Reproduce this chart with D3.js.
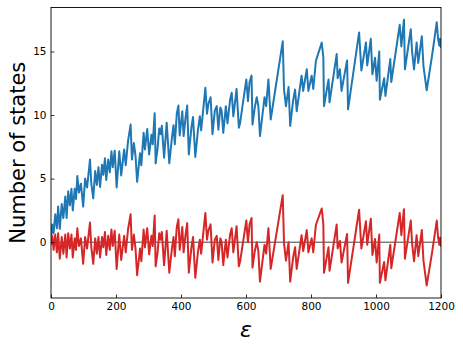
<!DOCTYPE html>
<html>
<head>
<meta charset="utf-8">
<script src="https://cdn.jsdelivr.net/npm/d3@7"></script>
<style>
  body { margin: 0; background: #fff; }
  svg { display: block; font-family: "DejaVu Sans", sans-serif; }
</style>
</head>
<body>
<svg id="chart" width="463" height="350"></svg>
<script>
"use strict";

// energies at which the curves change slope
const eps = [0, 4, 8, 13, 18, 22, 27, 33, 38, 44, 48, 53, 58, 63, 67, 73, 77, 81, 86, 92,
  99, 105, 111, 120, 124, 130, 136, 141, 146, 151, 157, 161, 166, 170, 176, 181, 186, 190, 196, 202,
  210, 216, 225, 230, 237, 245, 249, 255, 260, 265, 274, 278, 285, 289, 296, 302, 309, 313, 319, 322,
  328, 333, 337, 341, 348, 356, 364, 372, 377, 381, 387, 392, 396, 404, 408, 414, 419, 424, 432, 437,
  444, 452, 458, 462, 475, 480, 484, 491, 497, 504, 510, 515, 521, 525, 530, 538, 543, 551, 556, 561,
  571, 578, 582, 601, 606, 611, 617, 620, 627, 633, 638, 643, 657, 662, 669, 676, 713, 717, 723, 731,
  736, 745, 751, 756, 771, 776, 787, 792, 802, 807, 815, 833, 838, 840, 854, 857, 879, 882, 889, 894,
  911, 914, 948, 955, 969, 973, 984, 989, 997, 1002, 1010, 1012, 1025, 1029, 1044, 1047, 1073, 1078, 1086, 1089,
  1107, 1111, 1117, 1125, 1130, 1141, 1146, 1156, 1172, 1187, 1191, 1195, 1197, 1200];

// number of states
const states = [0.5, 1.4, 0.7, 2.2, 1.1, 2.8, 1.05, 3.0, 1.9, 3.6, 1.9, 4.0, 2.9, 4.2, 2.5, 4.2, 3.4, 5.2, 3.9, 4.6,
  2.8, 5.0, 4.3, 6.5, 4.6, 3.45, 5.6, 4.5, 5.9, 4.35, 6.1, 5.3, 6.6, 4.9, 6.5, 5.5, 7.15, 5.9, 7.2, 4.3,
  7.15, 5.25, 7.3, 6.05, 7.95, 9.25, 6.5, 7.8, 6.8, 4.75, 7.0, 6.05, 8.6, 7.3, 8.9, 6.9, 8.45, 7.7, 10.15, 6.2,
  7.4, 8.95, 8.5, 9.15, 6.65, 9.4, 6.2, 8.2, 9.2, 7.7, 10.1, 10.75, 8.4, 10.3, 8.35, 9.8, 10.75, 6.9, 9.0, 9.85,
  6.7, 8.8, 9.9, 8.8, 12.15, 10.1, 10.85, 11.4, 8.5, 10.35, 10.7, 8.85, 10.6, 10.35, 8.6, 10.7, 9.35, 11.2, 11.75, 9.9,
  12.05, 9.0, 9.4, 12.8, 11.1, 12.6, 13.1, 9.25, 10.6, 11.4, 10.7, 8.35, 11.4, 10.7, 12.8, 9.65, 15.8, 12.0, 10.7, 12.2,
  9.15, 11.15, 12.0, 10.3, 13.1, 11.9, 13.6, 11.9, 13.1, 12.05, 14.25, 15.7, 14.5, 10.7, 12.8, 11.0, 14.8, 12.9, 13.6, 11.9,
  14.3, 10.45, 16.5, 13.5, 15.7, 13.9, 16.0, 13.2, 14.5, 12.7, 15.0, 11.2, 12.9, 11.5, 14.4, 12.6, 17.1, 15.4, 17.5, 13.6,
  16.75, 15.0, 13.6, 15.7, 14.1, 16.2, 13.85, 11.95, 14.6, 17.3, 16.0, 15.45, 16.0, 15.3];

// fluctuating part
const fluct = [-0.2, 0.5, -0.6, 0.6, -0.8, 0.7, -1.3, 0.4, -0.9, 0.6, -1.2, 0.7, -0.5, 0.6, -1.2, 0.3, -0.6, 1.1, -0.3, 0.3,
  -1.7, 0.4, -0.5, 1.55, -0.4, -1.7, 0.3, -0.9, 0.4, -1.2, 0.4, -0.4, 0.8, -1.0, 0.5, -0.6, 1.0, -0.3, 0.9, -2.1,
  0.6, -1.4, 0.5, -0.8, 1.0, 2.2, -0.6, 0.6, -0.5, -2.6, -0.5, -1.5, 1.0, -0.4, 1.1, -0.95, 0.5, -0.3, 2.1, -1.9,
  -0.8, 0.7, 0.2, 0.8, -1.8, 0.9, -2.4, -0.5, 0.4, -1.1, 1.2, 1.8, -0.6, 1.2, -0.8, 0.6, 1.5, -2.4, -0.4, 0.4,
  -2.8, -0.8, 0.2, -0.9, 2.3, 0.2, 0.9, 1.4, -1.6, 0.2, 0.5, -1.4, 0.3, 0.0, -1.8, 0.2, -1.2, 0.6, 1.1, -0.8,
  1.25, -1.9, -1.5, 1.7, 0.0, 1.4, 1.9, -2.0, -0.7, 0.0, -0.7, -3.1, -0.2, -0.9, 1.1, -2.1, 3.7, -0.1, -1.45, 0.0,
  -3.1, -1.2, -0.4, -2.1, 0.55, -0.7, 0.95, -0.8, 0.3, -0.8, 1.35, 2.65, 1.4, -2.4, -0.4, -2.25, 1.4, -0.5, 0.1, -1.6,
  0.65, -3.2, 2.55, -0.5, 1.65, -0.2, 1.85, -1.0, 0.25, -1.6, 0.6, -3.2, -1.55, -3.0, -0.2, -2.05, 2.3, 0.55, 2.6, -1.3,
  1.7, -0.1, -1.5, 0.55, -1.1, 0.95, -1.45, -3.4, -0.9, 1.7, 0.4, -0.2, 0.35, -0.35];

const xTicks = [0, 200, 400, 600, 800, 1000, 1200];
const yTicks = [0, 5, 10, 15];

const W = 463, H = 350;
const m = { left: 51, right: 22, top: 7.5, bottom: 52 };

const svg = d3.select("#chart");

const x = d3.scaleLinear().domain([0, 1200]).range([m.left, W - m.right]);
const y = d3.scaleLinear().domain([-4.39, 18.46]).range([H - m.bottom, m.top]);

svg.append("clipPath").attr("id", "plotclip")
  .append("rect")
  .attr("x", m.left).attr("y", m.top)
  .attr("width", W - m.left - m.right).attr("height", H - m.top - m.bottom);

const plot = svg.append("g").attr("clip-path", "url(#plotclip)");

// zero reference
plot.append("line")
  .attr("x1", x(0)).attr("x2", x(1200))
  .attr("y1", y(0)).attr("y2", y(0))
  .attr("stroke", "#000")
  .attr("stroke-opacity", 0.75)
  .attr("stroke-width", 1);

const line = d3.line()
  .x((d, i) => x(eps[i]))
  .y(d => y(d));

plot.append("path")
  .datum(states)
  .attr("d", line)
  .attr("fill", "none")
  .attr("stroke", "#1f77b4")
  .attr("stroke-width", 2)
  .attr("stroke-linejoin", "round");

plot.append("path")
  .datum(fluct)
  .attr("d", line)
  .attr("fill", "none")
  .attr("stroke", "#d62728")
  .attr("stroke-width", 2)
  .attr("stroke-linejoin", "round");

// axes, ticks pointing inward
const xAxis = svg.append("g")
  .attr("transform", "translate(0," + (H - m.bottom) + ")")
  .call(d3.axisBottom(x).tickValues(xTicks).tickFormat(d3.format("d"))
    .tickSizeInner(-3.5).tickSizeOuter(0).tickPadding(5));

const yAxis = svg.append("g")
  .attr("transform", "translate(" + m.left + ",0)")
  .call(d3.axisLeft(y).tickValues(yTicks).tickFormat(d3.format("d"))
    .tickSizeInner(-3.5).tickSizeOuter(0).tickPadding(4.5));

[xAxis, yAxis].forEach(a => {
  a.select(".domain").remove();
  a.selectAll(".tick line").attr("stroke", "#000").attr("stroke-width", 0.8);
  a.selectAll(".tick text")
    .attr("font-family", "DejaVu Sans, sans-serif")
    .attr("font-size", 10.5)
    .attr("fill", "#000");
});

// frame
svg.append("rect")
  .attr("x", m.left).attr("y", m.top)
  .attr("width", W - m.left - m.right).attr("height", H - m.top - m.bottom)
  .attr("fill", "none")
  .attr("stroke", "#000")
  .attr("stroke-width", 0.9);

svg.append("text")
  .attr("transform", "translate(24.5," + ((m.top + H - m.bottom) / 2) + ") rotate(-90)")
  .attr("text-anchor", "middle")
  .attr("font-family", "DejaVu Sans, sans-serif")
  .attr("font-size", 21)
  .attr("fill", "#000")
  .text("Number of states");

svg.append("text")
  .attr("x", x(600))
  .attr("y", 337)
  .attr("text-anchor", "middle")
  .attr("font-family", "DejaVu Sans, sans-serif")
  .attr("font-style", "italic")
  .attr("font-size", 22)
  .attr("fill", "#000")
  .text("ε");
</script>
</body>
</html>
